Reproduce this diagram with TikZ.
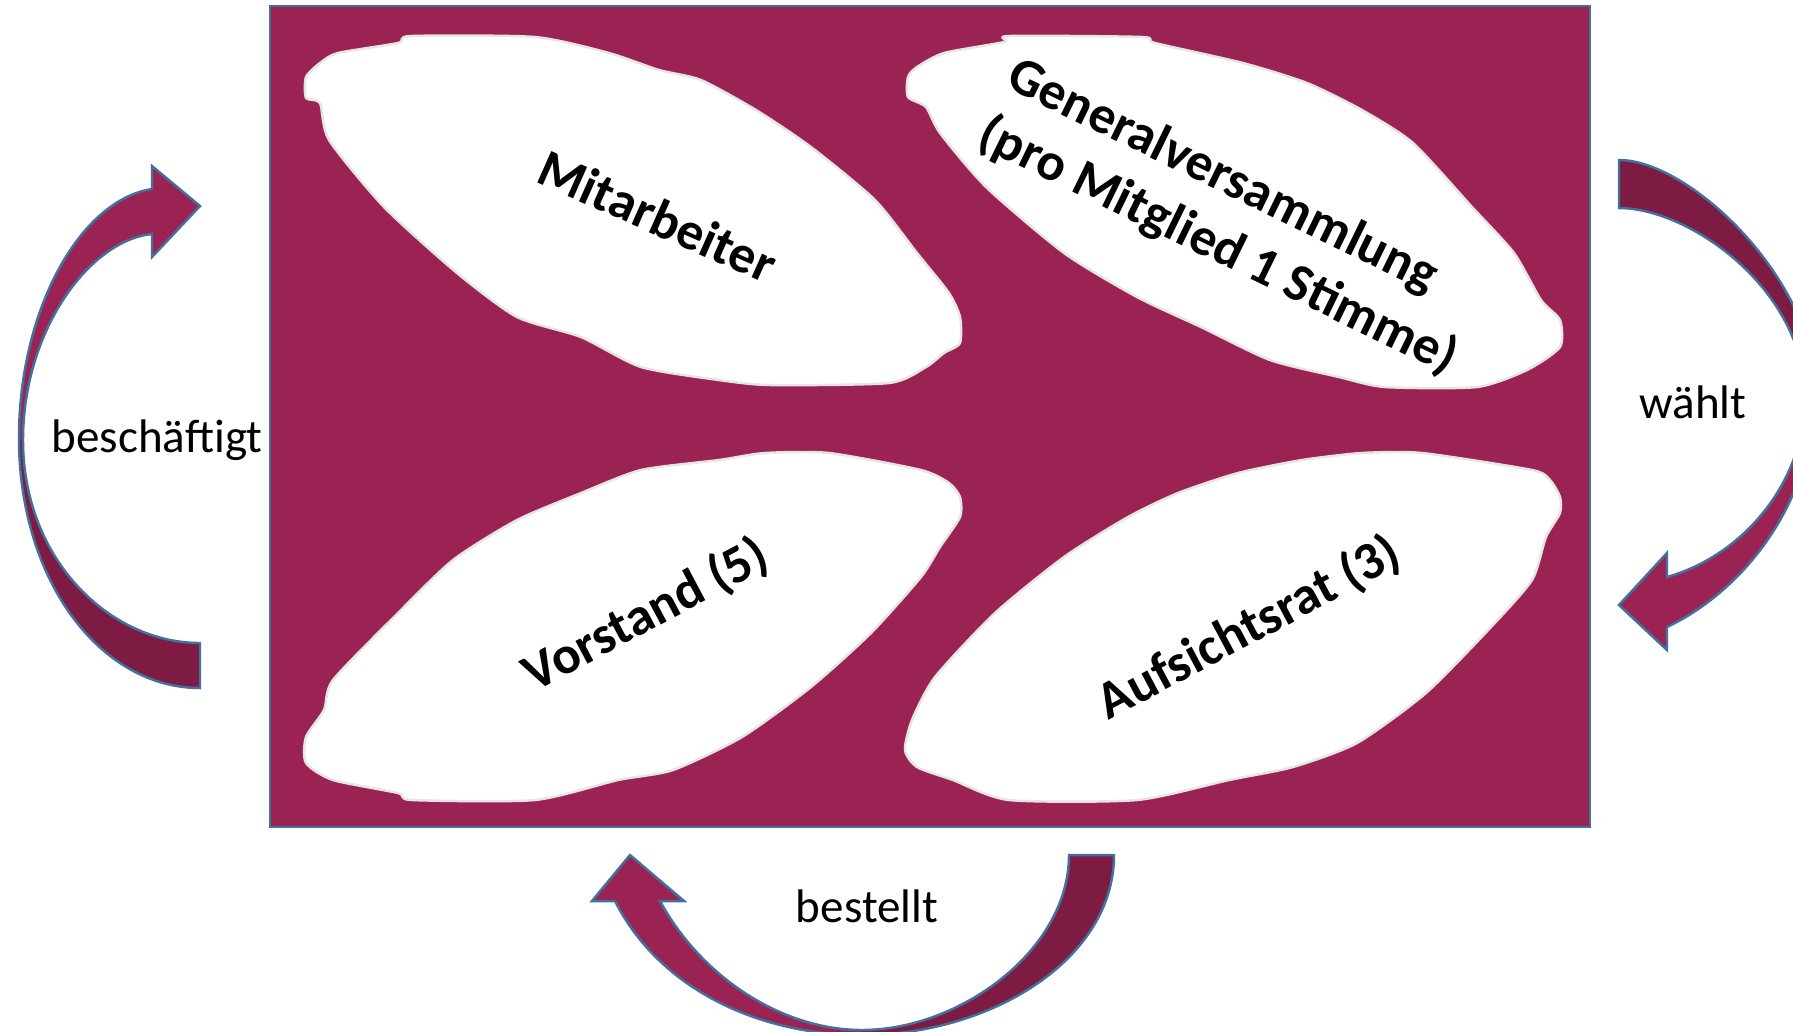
\documentclass[tikz,border=0pt]{standalone}
\usepackage{fontspec}
\setmainfont{Carlito}
\definecolor{wine}{RGB}{155,35,84}
\definecolor{winedark}{RGB}{125,27,67}
\definecolor{edgeblue}{RGB}{65,113,156}
\begin{document}
\begin{tikzpicture}[x=0.1mm,y=-0.1mm,
  panel/.style={fill=wine,draw=edgeblue,line width=0.6pt},
  leaf/.style={fill=white,draw=black!10,line width=0.7pt},
  leaflabel/.style={font=\fontsize{15.1}{18.5}\selectfont\bfseries,align=left,inner sep=0pt},
  arrowlabel/.style={font=\fontsize{13.4}{16}\selectfont,inner sep=0pt},
  lightpart/.style={fill=wine},
  darkpart/.style={fill=winedark},
  blockedge/.style={draw=edgeblue,line width=0.7pt,line join=miter}]
\useasboundingbox (0,0) rectangle (1793,1031);
\clip (0,0) rectangle (1793,1031);
\fill[white] (0,0) rectangle (1793,1031);

% main panel
\draw[panel] (270,6) rectangle (1590,827);

% leaves
\draw[leaf] plot[smooth cycle,tension=0.4] coordinates {(411,36) (535,37) (609,53) (659,70) (701,80) (756,110) (811,147) (875,200) (917,253) (949,293) (960,317) (960,343) (944,353) (926,367) (889,383) (770,385) (719,380) (641,367) (581,337) (517,317) (457,273) (384,207) (329,140) (320,103) (306,98) (306,77) (320,63) (338,53) (398,43)};
\draw[leaf] plot[smooth cycle,tension=0.4] coordinates {(1009,36) (1142,37) (1155,43) (1243,63) (1307,83) (1362,110) (1413,143) (1472,207) (1514,253) (1541,300) (1560,320) (1560,347) (1527,370) (1477,387) (1385,387) (1339,377) (1270,360) (1201,327) (1137,297) (1064,253) (986,187) (940,133) (926,107) (908,97) (908,77) (917,67) (944,53) (1004,42)};
\draw[leaf] plot[smooth cycle,tension=0.4] coordinates {(765,453) (829,453) (921,470) (949,483) (960,497) (960,517) (940,547) (921,577) (871,633) (811,687) (742,737) (673,770) (618,780) (535,800) (412,800) (398,793) (333,780) (306,763) (306,737) (324,710) (333,680) (398,613) (453,560) (517,520) (581,493) (641,470) (719,460)};
\draw[leaf] plot[smooth cycle,tension=0.4] coordinates {(1362,453) (1422,453) (1532,470) (1550,480) (1560,497) (1560,513) (1546,537) (1532,580) (1491,627) (1426,693) (1357,743) (1293,767) (1229,780) (1137,800) (1009,800) (953,780) (917,767) (905,750) (912,720) (935,677) (995,613) (1064,557) (1128,517) (1178,493) (1238,473) (1302,460)};

\node[leaflabel,rotate=-24] (mit) at (658,216) {Mitarbeiter};
\node[leaflabel,rotate=-26] (gv) at (1232,218) {Generalversammlung\\(pro Mitglied 1 Stimme)};
\node[leaflabel,rotate=28] (vor) at (646,615) {Vorstand (5)};
\node[leaflabel,rotate=28] (auf) at (1249,628) {Aufsichtsrat (3)};

% left arrow (beschaeftigt)
\fill[darkpart] (200,688) .. controls (100,688) and (19,580) .. (19,438) -- (23,440) .. controls (23,560) and (110,643) .. (200,643) -- cycle;
\fill[lightpart] (19,438) .. controls (19,310) and (80,200) .. (152,189) -- (152,166) -- (200,206) -- (152,257) -- (152,234) .. controls (90,240) and (23,330) .. (23,440) -- cycle;
\draw[blockedge] (200,688) .. controls (100,688) and (19,580) .. (19,438) .. controls (19,310) and (80,200) .. (152,189) -- (152,166) -- (200,206) -- (152,257) -- (152,234) .. controls (90,240) and (23,330) .. (23,440) .. controls (23,560) and (110,643) .. (200,643) -- cycle;

% right arrow (waehlt)
\fill[darkpart] (1619,160) .. controls (1690,160) and (1815,280) .. (1815,390) -- (1805,398) .. controls (1805,290) and (1690,208) .. (1619,208) -- cycle;
\fill[lightpart] (1815,390) .. controls (1815,500) and (1745,590) .. (1667,627) -- (1667,650) -- (1619,605) -- (1667,553) -- (1667,577) .. controls (1745,555) and (1805,480) .. (1805,398) -- cycle;
\draw[blockedge] (1619,160) .. controls (1690,160) and (1815,280) .. (1815,390) .. controls (1815,500) and (1745,590) .. (1667,627) -- (1667,650) -- (1619,605) -- (1667,553) -- (1667,577) .. controls (1745,555) and (1805,480) .. (1805,398) .. controls (1805,290) and (1690,208) .. (1619,208) -- cycle;

% bottom arrow (bestellt)
\fill[darkpart] (862,1035) .. controls (990,1035) and (1114,960) .. (1114,855) -- (1069,855) .. controls (1069,950) and (960,1030) .. (862,1030) -- cycle;
\fill[lightpart] (615,901) .. controls (660,990) and (760,1035) .. (862,1035) -- (862,1030) .. controls (780,1030) and (700,975) .. (660,901) -- (684,901) -- (630,855) -- (592,901) -- cycle;
\draw[blockedge] (615,901) .. controls (660,990) and (760,1035) .. (862,1035) .. controls (990,1035) and (1114,960) .. (1114,855) -- (1069,855) .. controls (1069,950) and (960,1030) .. (862,1030) .. controls (780,1030) and (700,975) .. (660,901) -- (684,901) -- (630,855) -- (592,901) -- cycle;

% labels
\node[arrowlabel] (besch) at (157,440) {beschäftigt};
\node[arrowlabel] (waehlt) at (1693,402) {wählt};
\node[arrowlabel] (bestellt) at (867,906) {bestellt};
\end{tikzpicture}
\end{document}
